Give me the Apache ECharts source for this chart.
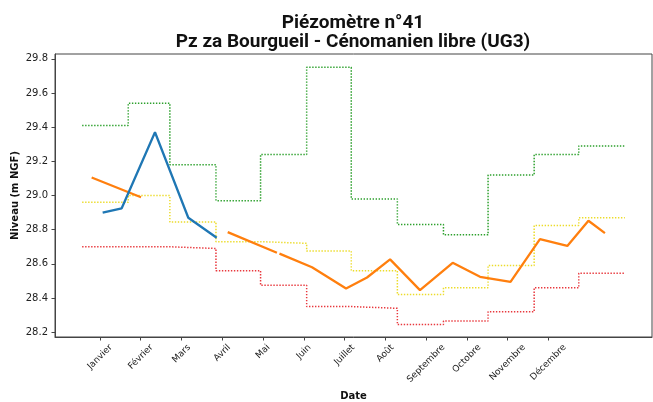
<!DOCTYPE html>
<html>
<head>
<meta charset="utf-8">
<script src="https://cdn.jsdelivr.net/npm/echarts@6/dist/echarts.min.js"></script>
<style>html,body{margin:0;padding:0;background:#fff}#c{width:653px;height:402px}</style>
</head>
<body>
<div id="c"></div>
<script>
// ---- data (x in day of year) ----
const months = ['Janvier','Février','Mars','Avril','Mai','Juin','Juillet','Août','Septembre','Octobre','Novembre','Décembre'];
const tickDays = [12.0, 39.4, 66.8, 94.2, 121.6, 149.1, 176.5, 203.9, 231.3, 258.7, 286.1, 313.5];
const yTicks = [28.2, 28.4, 28.6, 28.8, 29.0, 29.2, 29.4, 29.6, 29.8];
const monthStartDays = [0, 31, 59, 90, 120, 151, 181, 212, 243, 273, 304, 334, 365];
const levelHigh = [29.41, 29.54, 29.18, 28.97, 29.24, 29.75, 28.98, 28.83, 28.77, 29.12, 29.24, 29.29];
const levelMid  = [28.96, 29.00, 28.845, 28.73, 28.72, 28.675, 28.56, 28.42, 28.46, 28.59, 28.825, 28.87];
const levelLow  = [28.70, 28.70, 28.69, 28.56, 28.475, 28.35, 28.34, 28.245, 28.265, 28.32, 28.46, 28.545];
const orangeDays   = [6.4, 39.6, 68, 97.9, 131.0, 131.9, 132.7, 154.6, 177.5, 191.6, 207.1, 227.2, 249.2, 267.6, 288.1, 307.9, 326.3, 340.5, 351.6];
const orangeLevels = [29.105, 28.99, null, 28.786, 28.665, null, 28.66, 28.58, 28.456, 28.52, 28.626, 28.446, 28.606, 28.524, 28.495, 28.745, 28.705, 28.852, 28.78];
const blueDays   = [13.8, 26.6, 49.0, 71.4, 90.5];
const blueLevels = [28.90, 28.925, 29.37, 28.87, 28.753];

function stepData(levels) {
  const d = levels.map((v, i) => [monthStartDays[i], v]);
  d.push([monthStartDays[levels.length], levels[levels.length - 1]]);
  return d;
}
const zip = (xs, ys) => xs.map((x, i) => [x, ys[i]]);

const ctx = document.createElement('canvas').getContext('2d');
ctx.font = '9px "DejaVu Sans"';
const rich = {};
months.forEach((m, i) => {
  const w = ctx.measureText(m).width;
  rich['m' + i] = { fontSize: 9, fontFamily: 'DejaVu Sans', color: '#222', padding: [w / 2, w / 2, 0, 0] };
});

const chart = echarts.init(document.getElementById('c'), null, { renderer: 'canvas' });
const dotted = (color) => ({ color: color, width: 1.5, type: [1.4, 1.6], cap: 'butt' });
chart.setOption({
  animation: false,
  backgroundColor: '#fff',
  title: {
    text: 'Piézomètre n°41\nPz za Bourgueil - Cénomanien libre (UG3)',
    left: 348, top: 8, textAlign: 'center',
    textStyle: { fontFamily: 'Roboto', fontWeight: 'bold', fontSize: 19, lineHeight: 19.5, color: '#111' }
  },
  grid: { left: 55, right: 1, top: 54, bottom: 65, show: true, borderColor: '#444', borderWidth: 1, containLabel: false, outerBoundsMode: 'none' },
  xAxis: {
    type: 'value', min: -18.25, max: 383.25,
    name: 'Date', nameLocation: 'middle', nameGap: 54, nameMoveOverlap: false,
    nameTextStyle: { fontFamily: 'DejaVu Sans', fontWeight: 'bold', fontSize: 10, color: '#111' },
    axisLine: { show: true, onZero: false, lineStyle: { color: '#444', width: 1 } },
    axisTick: { show: true, customValues: tickDays, length: 3.5, lineStyle: { color: '#444' } },
    splitLine: { show: false },
    axisLabel: {
      customValues: tickDays, rotate: 45, align: 'center', verticalAlign: 'middle', margin: 9,
      formatter: (v) => { const i = tickDays.findIndex(t => Math.abs(t - v) < 0.05); return i < 0 ? '' : '{m' + i + '|' + months[i] + '}'; },
      rich: rich
    }
  },
  yAxis: {
    type: 'value', min: 28.172, max: 29.828,
    name: 'Niveau (m NGF)', nameLocation: 'middle', nameGap: 35, nameRotate: 90, nameMoveOverlap: false,
    nameTextStyle: { fontFamily: 'DejaVu Sans', fontWeight: 'bold', fontSize: 10, color: '#111' },
    axisLine: { show: true, onZero: false, lineStyle: { color: '#444', width: 1 } },
    axisTick: { show: true, customValues: yTicks, length: 3.5, lineStyle: { color: '#444' } },
    splitLine: { show: false },
    axisLabel: { customValues: yTicks, margin: 7, fontFamily: 'DejaVu Sans', fontSize: 10, color: '#222', formatter: (v) => v.toFixed(1) }
  },
  series: [
    { type: 'line', step: 'end', data: stepData(levelHigh), symbol: 'none', lineStyle: dotted('#2ca02c'), z: 2 },
    { type: 'line', step: 'end', data: stepData(levelMid), symbol: 'none', lineStyle: dotted('#ecdc2a'), z: 2 },
    { type: 'line', step: 'end', data: stepData(levelLow), symbol: 'none', lineStyle: dotted('#e8383d'), z: 2 },
    { type: 'line', data: zip(orangeDays, orangeLevels), symbol: 'none', connectNulls: false, lineStyle: { color: '#ff7f0e', width: 2.3 }, z: 3 },
    { type: 'line', data: zip(blueDays, blueLevels), symbol: 'none', lineStyle: { color: '#1f77b4', width: 2.3 }, z: 4 }
  ]
});
</script>
</body>
</html>
